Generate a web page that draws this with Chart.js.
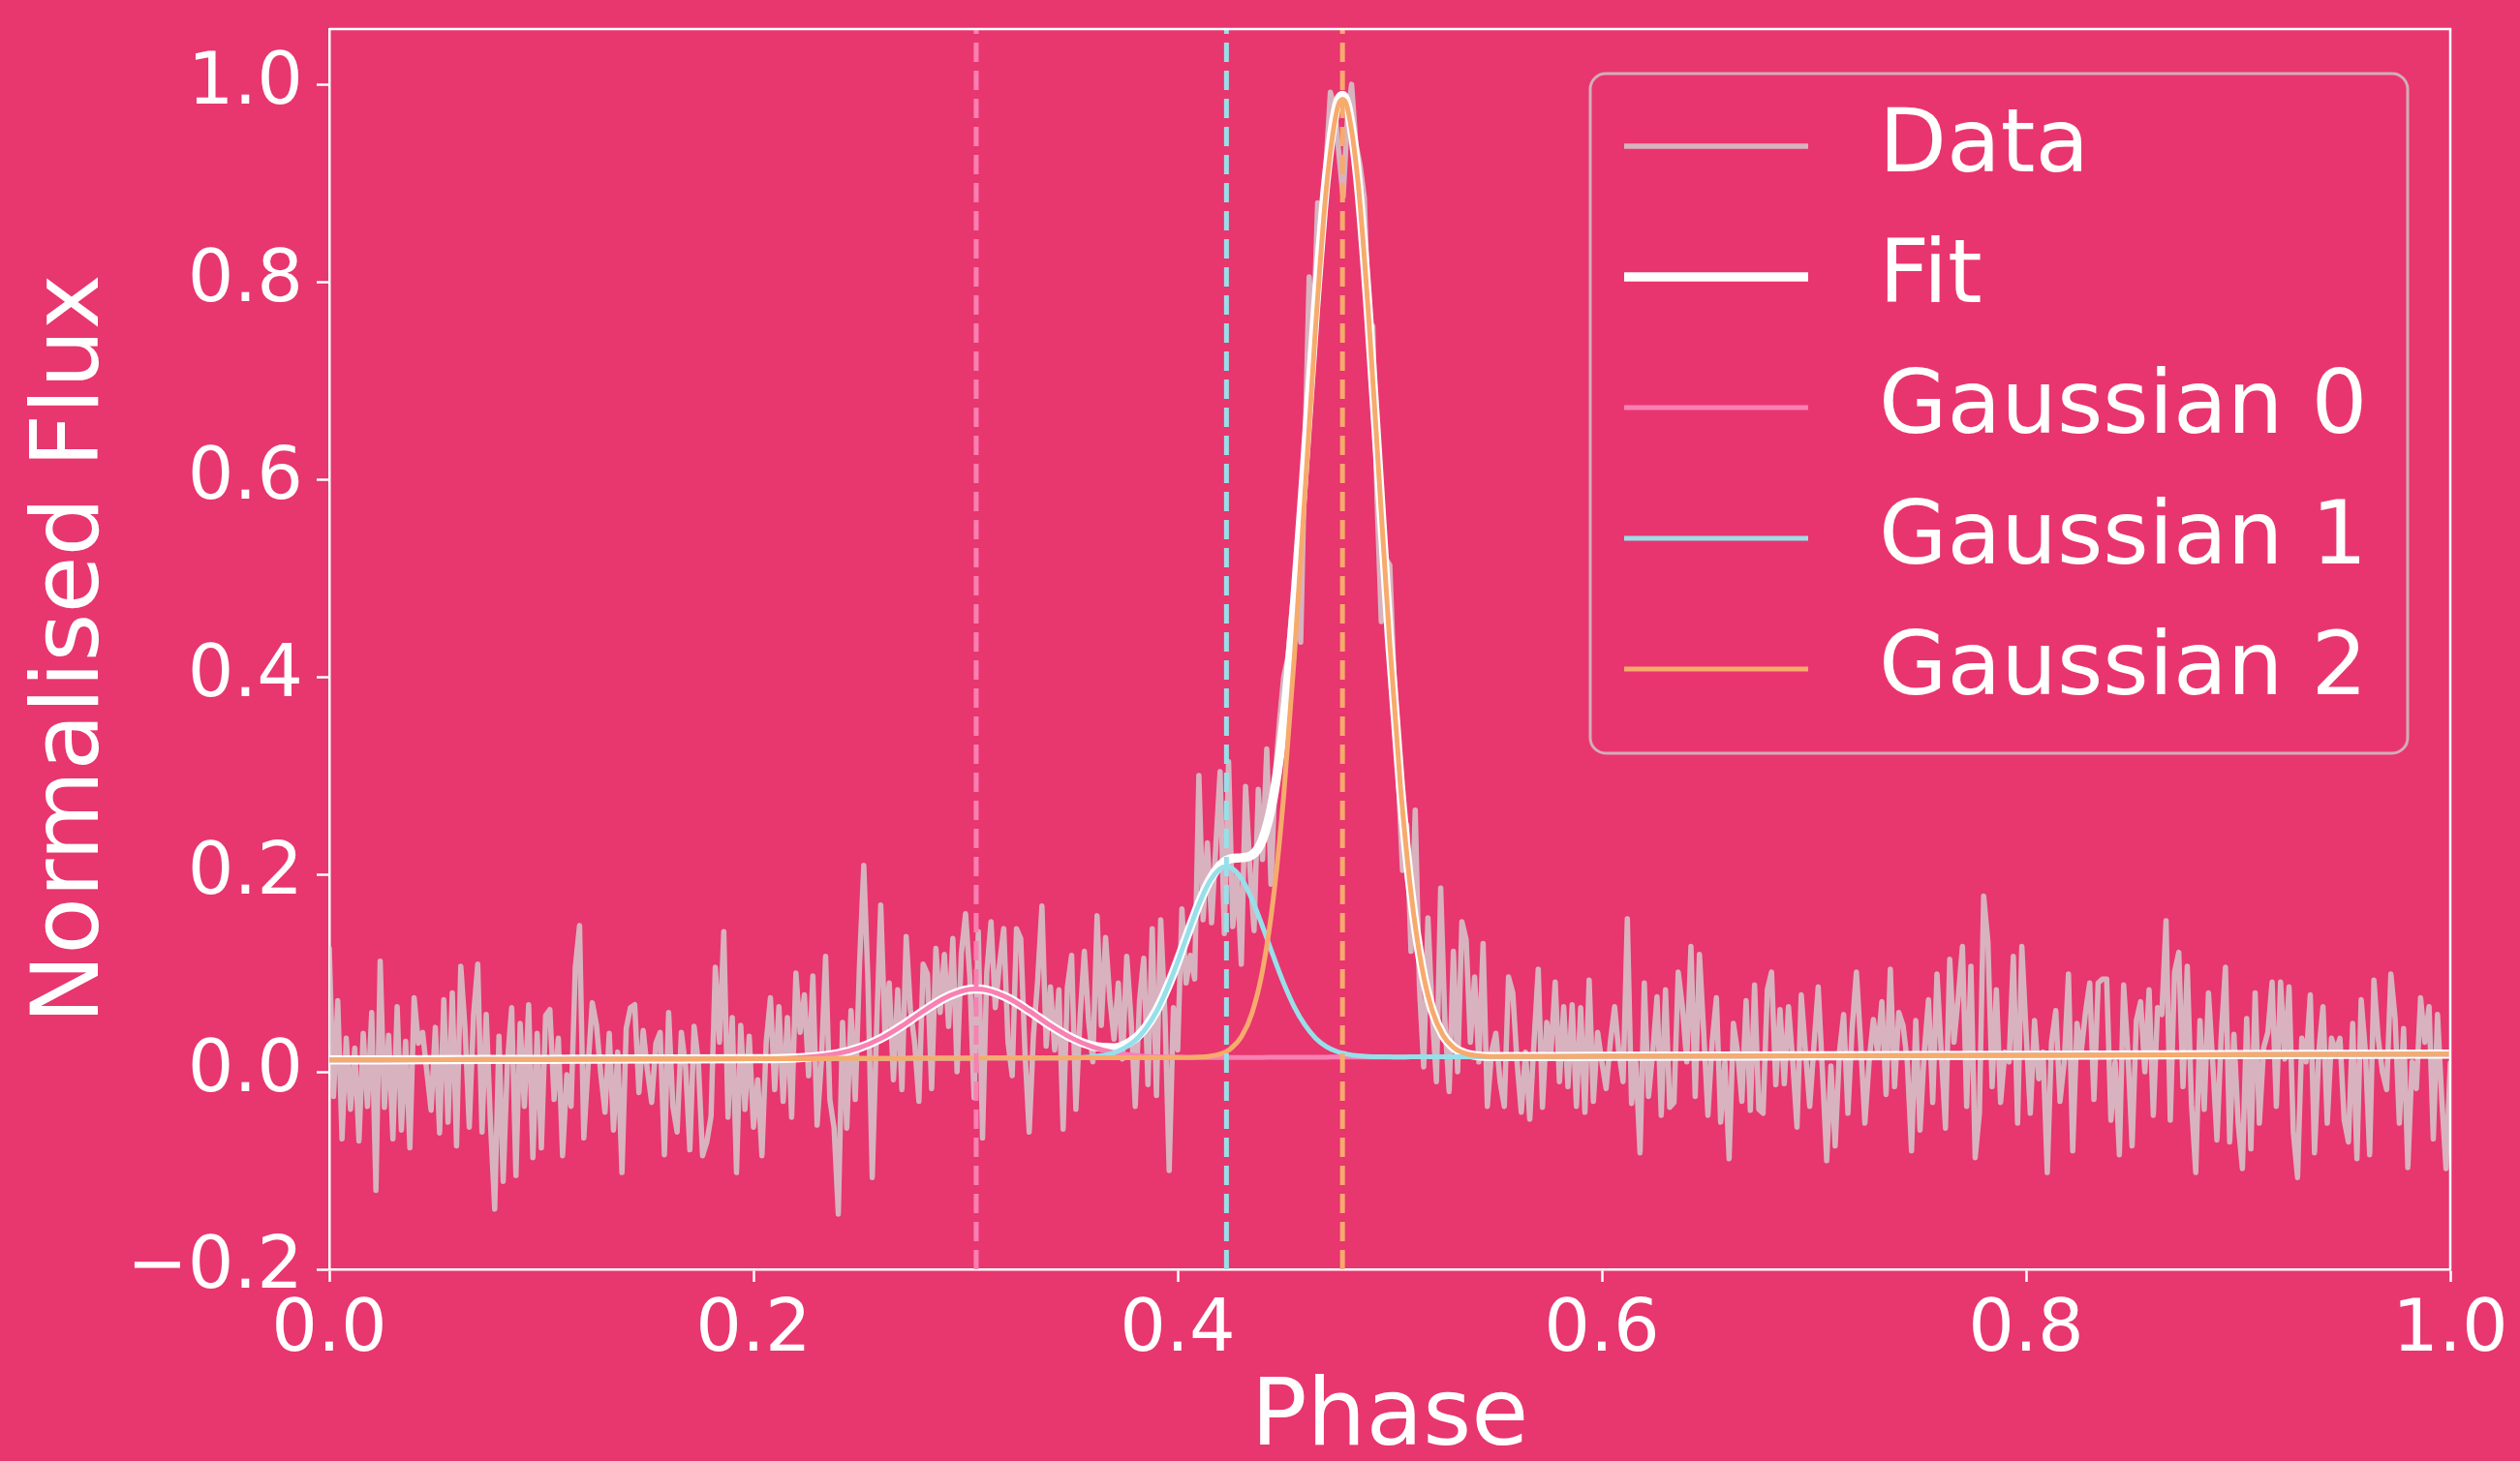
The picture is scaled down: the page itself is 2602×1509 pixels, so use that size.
<!DOCTYPE html>
<html>
<head>
<meta charset="utf-8">
<title>Pulse profile fit</title>
<script src="https://cdn.jsdelivr.net/npm/chart.js@4.4.1/dist/chart.umd.min.js"></script>
<style>
  html, body { margin: 0; padding: 0; background: #e8366f; }
  canvas { display: block; }
</style>
</head>
<body>
<canvas id="profile" width="2602" height="1509" style="width:2602px;height:1509px"></canvas>
<script>
// Phase-folded profile: binned data, total fit and the three gaussian components

// data bins start at phase 0 and are 0.002 wide
const fluxStart = 0;
const fluxStep = 0.002;
const dataFlux = [
    0.125, -0.025, 0.072, -0.068, 0.034, -0.038, 0.024, -0.070, 0.039, -0.035,
    0.060, -0.120, 0.112, -0.036, 0.037, -0.068, 0.066, -0.059, 0.031, -0.077,
    0.075, 0.029, 0.040, 0.000, -0.039, 0.045, -0.062, 0.073, -0.051, 0.080,
    -0.075, 0.107, 0.044, -0.056, 0.057, 0.109, -0.061, 0.058, -0.052, -0.139,
    0.036, -0.111, 0.010, 0.065, -0.105, 0.049, -0.035, 0.068, -0.087, 0.039,
    -0.077, 0.057, 0.063, -0.028, 0.034, -0.085, -0.003, -0.035, 0.106, 0.148,
    -0.067, 0.005, 0.070, 0.047, -0.002, -0.041, 0.039, -0.059, 0.020, -0.102,
    0.044, 0.065, 0.068, -0.021, 0.042, 0.001, -0.031, 0.029, 0.040, -0.084,
    0.060, -0.035, -0.061, 0.040, 0.005, -0.079, 0.046, 0.010, -0.085, -0.071,
    -0.045, 0.106, 0.030, 0.142, -0.046, 0.055, -0.102, 0.047, -0.038, 0.036,
    -0.056, -0.008, -0.085, 0.030, 0.075, -0.018, 0.066, -0.030, 0.055, -0.046,
    0.100, 0.040, 0.078, -0.004, 0.097, -0.054, 0.010, 0.117, -0.028, -0.057,
    -0.144, 0.050, -0.057, 0.062, -0.028, 0.109, 0.209, 0.090, -0.107, 0.040,
    0.169, 0.037, 0.090, -0.008, 0.083, -0.018, 0.137, 0.063, 0.029, -0.030,
    0.109, 0.099, -0.017, 0.125, 0.060, 0.119, 0.046, 0.135, 0.000, 0.120,
    0.160, 0.096, -0.026, 0.142, -0.067, 0.101, 0.152, 0.065, 0.109, 0.145,
    0.030, -0.004, 0.145, 0.135, 0.020, -0.061, 0.037, 0.093, 0.168, 0.026,
    0.086, 0.022, 0.083, -0.058, 0.086, 0.118, -0.038, 0.056, 0.122, 0.052,
    0.010, 0.158, 0.047, 0.136, 0.074, 0.033, 0.090, 0.013, 0.117, 0.054,
    -0.035, 0.072, 0.115, -0.013, 0.145, -0.024, 0.154, 0.058, -0.100, 0.065,
    0.022, 0.165, 0.090, 0.118, 0.094, 0.300, 0.154, 0.232, 0.151, 0.229,
    0.304, 0.140, 0.314, 0.147, 0.200, 0.109, 0.289, 0.208, 0.143, 0.286,
    0.215, 0.327, 0.190, 0.300, 0.355, 0.400, 0.420, 0.470, 0.505, 0.435,
    0.630, 0.805, 0.745, 0.880, 0.865, 0.920, 0.992, 0.975, 0.930, 0.886,
    0.965, 1.000, 0.940, 0.918, 0.885, 0.760, 0.755, 0.580, 0.456, 0.520,
    0.513, 0.400, 0.300, 0.204, 0.250, 0.122, 0.265, 0.085, 0.005, 0.156,
    0.060, -0.010, 0.186, 0.050, -0.020, 0.122, 0.000, 0.152, 0.134, 0.030,
    0.096, 0.010, 0.130, -0.035, 0.020, 0.039, -0.010, -0.035, 0.096, 0.080,
    0.010, -0.041, 0.020, -0.048, 0.030, 0.104, -0.036, 0.050, 0.020, 0.091,
    -0.010, 0.066, -0.015, 0.068, -0.035, 0.065, -0.041, 0.093, -0.030, 0.040,
    0.010, -0.017, 0.030, 0.066, 0.020, -0.010, 0.155, -0.032, 0.010, -0.082,
    0.090, -0.025, 0.020, 0.076, -0.044, 0.083, -0.036, -0.031, 0.101, 0.065,
    0.010, 0.127, -0.025, 0.119, 0.040, -0.044, 0.030, 0.075, -0.051, 0.010,
    -0.088, 0.049, 0.020, -0.030, 0.072, -0.039, 0.088, -0.038, -0.042, 0.083,
    0.101, -0.013, 0.063, -0.012, 0.066, 0.010, -0.056, 0.078, 0.020, -0.035,
    0.027, 0.086, 0.000, -0.090, 0.006, -0.075, 0.020, 0.058, -0.042, 0.044,
    0.101, 0.030, -0.052, 0.010, 0.053, 0.020, 0.071, -0.023, 0.104, -0.015,
    0.060, 0.047, 0.010, -0.080, 0.052, -0.059, 0.020, 0.073, -0.031, 0.099,
    0.020, -0.057, 0.114, 0.030, 0.075, 0.127, -0.035, 0.107, -0.087, -0.042,
    0.178, 0.132, -0.015, 0.083, -0.031, 0.020, 0.010, 0.117, -0.052, 0.127,
    0.040, -0.042, 0.052, -0.007, 0.020, -0.102, 0.030, 0.062, -0.030, 0.010,
    0.099, -0.080, 0.049, 0.020, 0.060, 0.090, -0.028, 0.090, 0.094, 0.094,
    -0.049, 0.010, -0.084, 0.088, 0.020, -0.075, 0.052, 0.071, 0.000, 0.083,
    -0.044, 0.065, 0.058, 0.153, -0.049, 0.101, 0.121, -0.015, 0.107, -0.033,
    -0.102, 0.052, -0.038, 0.080, 0.010, -0.069, 0.036, 0.106, -0.071, 0.038,
    -0.052, -0.098, 0.054, -0.078, 0.080, -0.052, 0.024, 0.040, 0.091, -0.035,
    0.091, 0.013, 0.086, -0.061, -0.107, 0.034, 0.010, 0.078, -0.082, 0.020,
    0.066, -0.052, 0.034, 0.020, 0.034, -0.049, -0.071, 0.049, -0.088, 0.073,
    0.020, -0.084, 0.093, 0.034, 0.000, -0.018, 0.099, 0.054, -0.052, 0.044,
    -0.097, 0.010, -0.017, 0.075, 0.030, 0.066, -0.068, 0.058, -0.028, -0.098,
    0.009
];

// model curves
const modelPhase = [
    0, 0.05, 0.1, 0.15, 0.2, 0.22, 0.24, 0.25, 0.26, 0.27,
    0.28, 0.29, 0.3, 0.305, 0.31, 0.32, 0.33, 0.34, 0.35, 0.36,
    0.37, 0.38, 0.385, 0.39, 0.395, 0.4, 0.405, 0.41, 0.415, 0.42,
    0.423, 0.425, 0.43, 0.435, 0.44, 0.445, 0.45, 0.455, 0.46, 0.465,
    0.47, 0.475, 0.4777, 0.48, 0.485, 0.49, 0.495, 0.5, 0.505, 0.51,
    0.515, 0.52, 0.525, 0.53, 0.535, 0.54, 0.55, 0.56, 0.58, 0.6,
    0.7, 0.8, 0.9, 1.0
];
const fitFlux = [
    0.0120, 0.0123, 0.0126, 0.0129, 0.0133, 0.0141, 0.0186, 0.0244, 0.0337, 0.0465,
    0.0613, 0.0746, 0.0827, 0.0838, 0.0828, 0.0748, 0.0616, 0.0469, 0.0344, 0.0262,
    0.0244, 0.0339, 0.0452, 0.0619, 0.0846, 0.1118, 0.1414, 0.1702, 0.1937, 0.2092,
    0.2141, 0.2159, 0.2168, 0.2194, 0.2351, 0.2769, 0.3548, 0.4717, 0.6186, 0.7728,
    0.9032, 0.9787, 0.9889, 0.9792, 0.9027, 0.7667, 0.6001, 0.4337, 0.2903, 0.1814,
    0.1074, 0.0623, 0.0373, 0.0247, 0.0190, 0.0166, 0.0154, 0.0154, 0.0155, 0.0156,
    0.0162, 0.0168, 0.0174, 0.0180
];
const gauss0Flux = [
    0.0120, 0.0123, 0.0126, 0.0129, 0.0133, 0.0141, 0.0186, 0.0244, 0.0337, 0.0465,
    0.0613, 0.0746, 0.0827, 0.0838, 0.0828, 0.0748, 0.0616, 0.0469, 0.0342, 0.0251,
    0.0194, 0.0165, 0.0157, 0.0151, 0.0149, 0.0147, 0.0145, 0.0145, 0.0145, 0.0145,
    0.0145, 0.0146, 0.0146, 0.0146, 0.0146, 0.0147, 0.0147, 0.0147, 0.0148, 0.0148,
    0.0148, 0.0149, 0.0149, 0.0149, 0.0149, 0.0149, 0.0150, 0.0150, 0.0150, 0.0151,
    0.0151, 0.0151, 0.0152, 0.0152, 0.0152, 0.0152, 0.0153, 0.0154, 0.0155, 0.0156,
    0.0162, 0.0168, 0.0174, 0.0180
];
const gauss1Flux = [
    0.0120, 0.0123, 0.0126, 0.0129, 0.0132, 0.0133, 0.0134, 0.0135, 0.0136, 0.0136,
    0.0137, 0.0137, 0.0138, 0.0138, 0.0139, 0.0139, 0.0140, 0.0140, 0.0143, 0.0153,
    0.0192, 0.0317, 0.0438, 0.0611, 0.0841, 0.1115, 0.1412, 0.1697, 0.1924, 0.2057,
    0.2079, 0.2070, 0.1961, 0.1749, 0.1473, 0.1177, 0.0896, 0.0657, 0.0474, 0.0342,
    0.0257, 0.0206, 0.0189, 0.0178, 0.0162, 0.0155, 0.0152, 0.0151, 0.0150, 0.0151,
    0.0151, 0.0151, 0.0152, 0.0152, 0.0152, 0.0152, 0.0153, 0.0154, 0.0155, 0.0156,
    0.0162, 0.0168, 0.0174, 0.0180
];
const gauss2Flux = [
    0.0120, 0.0123, 0.0126, 0.0129, 0.0132, 0.0133, 0.0134, 0.0135, 0.0136, 0.0136,
    0.0137, 0.0137, 0.0138, 0.0138, 0.0139, 0.0139, 0.0140, 0.0140, 0.0141, 0.0142,
    0.0142, 0.0143, 0.0143, 0.0143, 0.0144, 0.0144, 0.0145, 0.0149, 0.0158, 0.0180,
    0.0207, 0.0235, 0.0353, 0.0591, 0.1024, 0.1739, 0.2799, 0.4207, 0.5860, 0.7534,
    0.8923, 0.9730, 0.9849, 0.9763, 0.9014, 0.7661, 0.5999, 0.4336, 0.2903, 0.1814,
    0.1074, 0.0623, 0.0373, 0.0247, 0.0190, 0.0166, 0.0154, 0.0154, 0.0155, 0.0156,
    0.0162, 0.0168, 0.0174, 0.0180
];

// fitted centres of the three components (dashed markers)
const componentCentres = [0.305, 0.423, 0.4777];

const phaseTicks = [0, 0.2, 0.4, 0.6, 0.8, 1.0];
const fluxTicks = [-0.2, 0, 0.2, 0.4, 0.6, 0.8, 1.0];
const fluxMin = -0.2;
const fluxMax = 1.056;

const FONT = "'DejaVu Sans', 'Liberation Sans', sans-serif";
const DATA_COL = 'rgba(211, 211, 211, 0.8)';
const COMP_COLS = ['#f880b3', '#97e0ea', '#f6ab6d'];

const toPoints = (xs, ys) => xs.map((x, i) => ({ x, y: ys[i] }));

const dataPoints = dataFlux.map((y, i) => ({ x: fluxStart + i * fluxStep, y }));

const fmtTick = v => (Math.abs(v) < 1e-9 ? 0 : v).toFixed(1).replace('-', '\u2212');

// matplotlib-style frame: top and right spines
const frame = {
    id: 'frame',
    afterDatasetsDraw(chart) {
        const { ctx, chartArea: a } = chart;
        ctx.save();
        ctx.strokeStyle = '#ffffff';
        ctx.lineWidth = 2.5;
        ctx.beginPath();
        ctx.moveTo(a.left, a.top);
        ctx.lineTo(a.right, a.top);
        ctx.lineTo(a.right, a.bottom);
        ctx.stroke();
        ctx.restore();
    }
};

// legend box in the upper right of the axes
const insetLegend = {
    id: 'insetLegend',
    afterDraw(chart) {
        const ctx = chart.ctx;
        const items = chart.data.datasets.filter(d => d.inLegend !== false);
        const box = { x: 1642, y: 76, w: 844, h: 702, r: 16 };

        ctx.save();
        ctx.beginPath();
        ctx.roundRect(box.x, box.y, box.w, box.h, box.r);
        ctx.fillStyle = 'rgba(232, 54, 111, 0.8)';
        ctx.fill();
        ctx.lineWidth = 3;
        ctx.strokeStyle = 'rgba(204, 204, 204, 0.8)';
        ctx.stroke();

        ctx.font = '91px ' + FONT;
        ctx.textBaseline = 'middle';
        ctx.textAlign = 'left';
        items.forEach((d, i) => {
            const y = 151 + i * 135;
            ctx.beginPath();
            ctx.moveTo(1677, y);
            ctx.lineTo(1867, y);
            ctx.strokeStyle = d.borderColor;
            ctx.lineWidth = d.borderWidth;
            ctx.lineCap = 'butt';
            ctx.stroke();
            ctx.fillStyle = '#ffffff';
            ctx.fillText(d.label, 1940, y + 2);
        });
        ctx.restore();
    }
};

const modelLine = (label, ys, color, width, order) => ({
    label,
    data: toPoints(modelPhase, ys),
    borderColor: color,
    borderWidth: width,
    pointRadius: 0,
    cubicInterpolationMode: 'monotone',
    borderJoinStyle: 'round',
    order
});

const markerLines = componentCentres.map((c, i) => ({
    label: 'centre ' + i,
    inLegend: false,
    data: [{ x: c, y: fluxMin }, { x: c, y: fluxMax }],
    borderColor: COMP_COLS[i],
    borderWidth: 5,
    borderDash: [20, 9],
    pointRadius: 0,
    order: 0
}));

new Chart(document.getElementById('profile'), {
    type: 'line',
    data: {
        datasets: [
            {
                label: 'Data',
                data: dataPoints,
                borderColor: DATA_COL,
                borderWidth: 5.5,
                pointRadius: 0,
                tension: 0,
                borderJoinStyle: 'round',
                borderCapStyle: 'round',
                order: 5
            },
            modelLine('Fit', fitFlux, '#ffffff', 9.5, 4),
            modelLine('Gaussian 0', gauss0Flux, COMP_COLS[0], 5, 3),
            modelLine('Gaussian 1', gauss1Flux, COMP_COLS[1], 5, 2),
            modelLine('Gaussian 2', gauss2Flux, COMP_COLS[2], 5, 1),
            ...markerLines
        ]
    },
    options: {
        responsive: false,
        devicePixelRatio: 1,
        animation: false,
        layout: { padding: { top: 30, right: 72, bottom: 0, left: 0 } },
        plugins: {
            legend: { display: false },
            tooltip: { enabled: false }
        },
        scales: {
            x: {
                type: 'linear',
                min: phaseTicks[0],
                max: phaseTicks[phaseTicks.length - 1],
                afterFit: s => { s.height = 198; s.paddingLeft = 0; s.paddingRight = 0; },
                afterBuildTicks: s => { s.ticks = phaseTicks.map(v => ({ value: v })); },
                ticks: {
                    color: '#ffffff',
                    font: { family: FONT, size: 75 },
                    padding: 7,
                    maxRotation: 0,
                    autoSkip: false,
                    callback: fmtTick
                },
                grid: {
                    drawOnChartArea: false,
                    drawTicks: true,
                    tickLength: 13,
                    tickWidth: 2.5,
                    tickColor: '#ffffff'
                },
                border: { display: true, color: '#ffffff', width: 2.5 },
                title: {
                    display: true,
                    text: 'Phase',
                    color: '#ffffff',
                    font: { family: FONT, size: 96 },
                    padding: { top: 0, bottom: -16 }
                }
            },
            y: {
                type: 'linear',
                min: fluxMin,
                max: fluxMax,
                afterFit: s => { s.width = 340; s.paddingTop = 0; s.paddingBottom = 0; },
                afterBuildTicks: s => { s.ticks = fluxTicks.map(v => ({ value: v })); },
                ticks: {
                    color: '#ffffff',
                    font: { family: FONT, size: 75 },
                    padding: 14,
                    autoSkip: false,
                    callback: fmtTick
                },
                grid: {
                    drawOnChartArea: false,
                    drawTicks: true,
                    tickLength: 13,
                    tickWidth: 2.5,
                    tickColor: '#ffffff'
                },
                border: { display: true, color: '#ffffff', width: 2.5 },
                title: {
                    display: true,
                    text: 'Normalised Flux',
                    color: '#ffffff',
                    font: { family: FONT, size: 96 },
                    padding: { top: 18, bottom: 0 }
                }
            }
        }
    },
    plugins: [frame, insetLegend]
});
</script>
</body>
</html>
